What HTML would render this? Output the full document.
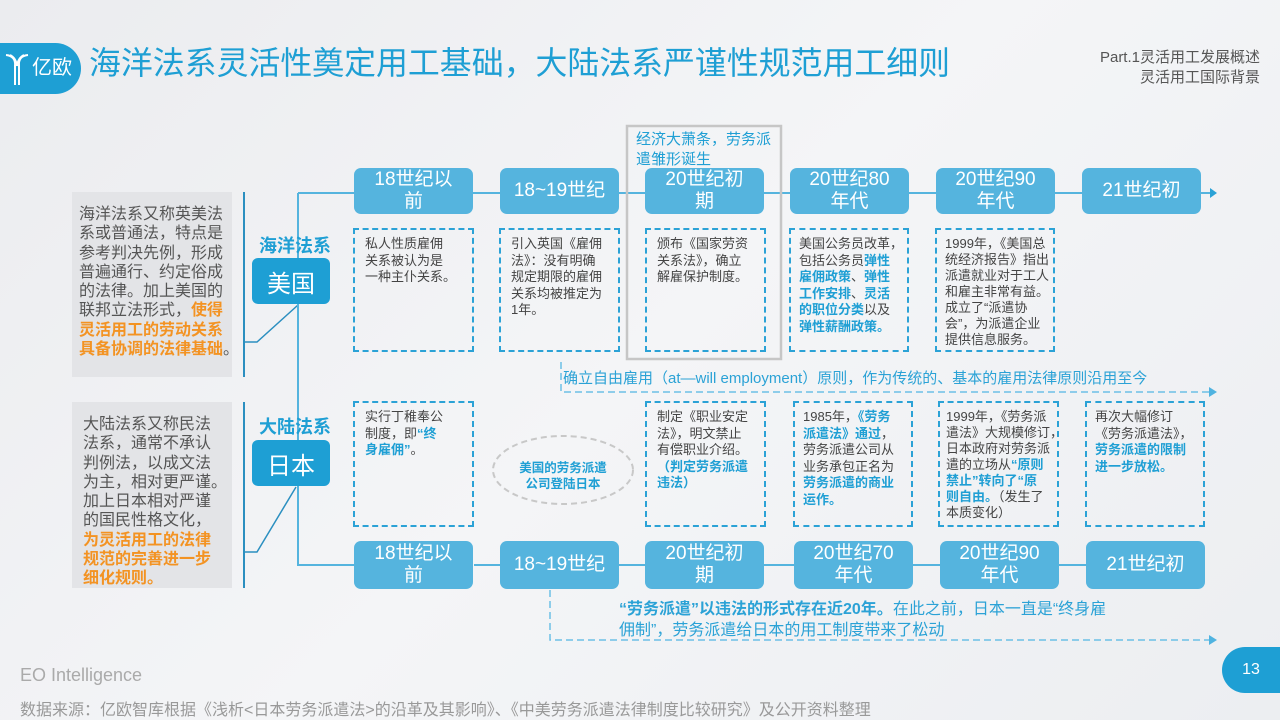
<!DOCTYPE html>
<html><head><meta charset="utf-8">
<style>
*{margin:0;padding:0;box-sizing:border-box}
body{width:1280px;height:720px;overflow:hidden;position:relative;background:linear-gradient(135deg,#ebecef 0%,#f4f5f7 50%,#eceef1 100%);font-family:"Liberation Sans","Noto Sans CJK SC",sans-serif;color:#444}
.a{position:absolute}
.tl{position:absolute;background:#55b4de;color:#fff;border-radius:7px;display:flex;align-items:center;justify-content:center;text-align:center;font-size:19px;line-height:22px;width:119px;height:46px}
.db{position:absolute;border:2.5px dashed #2ba2d6;padding:6px 0 0 10px;font-size:13px;line-height:16.5px;color:#444;white-space:nowrap}
.b{color:#1f9fd4;font-weight:bold}
.o{color:#f39323;font-weight:bold}
.gp{position:absolute;background:#e3e4e7;font-size:16px;line-height:19.3px;color:#555;white-space:nowrap}
.lab{position:absolute;background:#1e9fd4;color:#fff;border-radius:6px;font-size:24px;display:flex;align-items:center;justify-content:center;width:78px;height:46px}
.ln{position:absolute;background:#2b8fc0}
</style></head><body>
<div class="a" style="left:0;top:43px;width:81px;height:51px;background:#1e9fd4;border-radius:0 26px 26px 0;color:#fff">
<svg class="a" style="left:4px;top:9px" width="26" height="34" viewBox="0 0 26 34"><g fill="none" stroke="#fff" stroke-width="2"><path d="M2 3 Q12 4 11 14 V33"/><path d="M24 3 Q14 4 15 14 V33"/><path d="M6 3 Q12 6 13 14"/><path d="M20 3 Q14 6 13 14"/></g></svg>
<span class="a" style="left:32px;top:12px;font-size:20px;line-height:26px">亿欧</span></div>
<div class="a" style="left:89px;top:41px;font-size:31.9px;line-height:44px;color:#1e9fd4;white-space:nowrap">海洋法系灵活性奠定用工基础，大陆法系严谨性规范用工细则</div>
<div class="a" style="right:20px;top:48px;font-size:15px;line-height:20px;color:#555;text-align:right">Part.1灵活用工发展概述<br>灵活用工国际背景</div>

<div class="gp" style="left:72px;top:192px;width:160px;height:185px;padding:13px 0 0 7px">海洋法系又称英美法<br>系或普通法，特点是<br>参考判决先例，形成<br>普遍通行、约定俗成<br>的法律。加上美国的<br>联邦立法形式，<span class="o">使得</span><br><span class="o">灵活用工的劳动关系</span><br><span class="o">具备协调的法律基础</span>。</div>
<div class="gp" style="left:72px;top:402px;width:160px;height:186px;padding:13px 0 0 11px">大陆法系又称民法<br>法系，通常不承认<br>判例法，以成文法<br>为主，相对更严谨。<br>加上日本相对严谨<br>的国民性格文化，<br><span class="o">为灵活用工的法律</span><br><span class="o">规范的完善进一步</span><br><span class="o">细化规则。</span></div>

<div class="ln" style="left:243px;top:192px;width:2px;height:185px"></div>
<div class="ln" style="left:243px;top:402px;width:2px;height:186px"></div>
<svg class="a" style="left:0;top:0" width="1280" height="720">
<g stroke="#2b8fc0" stroke-width="1.5" fill="none">
<path d="M244 342 H257 L298 305"/>
<path d="M244 552 H257 L296 487"/>
</g>
<g stroke="#55b4de" stroke-width="2" fill="none">
<path d="M298 193 H1210"/>
<path d="M298 193 V565 H354"/>
<path d="M474 565 H1205"/>
</g>
<path d="M1210 188 L1217 193 L1210 198Z" fill="#2ba2d6"/>
<g stroke="#6cc0e6" stroke-width="1.5" fill="none" stroke-dasharray="7 4">
<path d="M561 362 V392 H1210"/>
<path d="M550 590 V640 H1210"/>
</g>
<path d="M1209 387 L1217 392 L1209 397Z" fill="#4fb3e0"/>
<path d="M1209 635 L1217 640 L1209 645Z" fill="#4fb3e0"/>
<ellipse cx="563" cy="470" rx="70" ry="34" fill="none" stroke="#c8c8c8" stroke-width="2" stroke-dasharray="6 4"/>
<rect x="627" y="126" width="154" height="233" fill="none" stroke="#c6c6c6" stroke-width="2.5"/>
</svg>

<div class="a" style="left:259px;top:232px;font-size:18px;font-weight:bold;color:#1f9fd4">海洋法系</div>
<div class="lab" style="left:252px;top:258px">美国</div>
<div class="a" style="left:259px;top:413px;font-size:18px;font-weight:bold;color:#1f9fd4">大陆法系</div>
<div class="lab" style="left:252px;top:440px">日本</div>

<div class="a" style="left:636px;top:130px;font-size:15px;line-height:20px;color:#1f9fd4;white-space:nowrap">经济大萧条，劳务派<br>遣雏形诞生</div>
<div class="tl" style="left:354px;top:168px">18世纪以<br>前</div>
<div class="tl" style="left:500px;top:168px">18~19世纪</div>
<div class="tl" style="left:645px;top:168px">20世纪初<br>期</div>
<div class="tl" style="left:790px;top:168px">20世纪80<br>年代</div>
<div class="tl" style="left:936px;top:168px">20世纪90<br>年代</div>
<div class="tl" style="left:1082px;top:168px">21世纪初</div>

<div class="db" style="left:353px;top:228px;width:121px;height:124px">私人性质雇佣<br>关系被认为是<br>一种主仆关系。</div>
<div class="db" style="left:499px;top:228px;width:121px;height:124px">引入英国《雇佣<br>法》：没有明确<br>规定期限的雇佣<br>关系均被推定为<br>1年。</div>
<div class="db" style="left:645px;top:228px;width:121px;height:124px">颁布《国家劳资<br>关系法》，确立<br>解雇保护制度。</div>
<div class="db" style="left:789px;top:228px;width:120px;height:124px;padding-left:8px">美国公务员改革，<br>包括公务员<span class="b">弹性</span><br><span class="b">雇佣政策</span>、<span class="b">弹性</span><br><span class="b">工作安排</span>、<span class="b">灵活</span><br><span class="b">的职位分类</span>以及<br><span class="b">弹性薪酬政策。</span></div>
<div class="db" style="left:935px;top:228px;width:120px;height:124px;padding-left:8px;line-height:16px">1999年，《美国总<br>统经济报告》指出<br>派遣就业对于工人<br>和雇主非常有益。<br>成立了“派遣协<br>会”，为派遣企业<br>提供信息服务。</div>

<div class="a" style="left:563px;top:367px;font-size:15px;color:#2ba2d6;white-space:nowrap">确立自由雇用（at—will employment）原则，作为传统的、基本的雇用法律原则沿用至今</div>

<div class="db" style="left:353px;top:401px;width:121px;height:126px">实行丁稚奉公<br>制度，即<span class="b">“终</span><br><span class="b">身雇佣”</span>。</div>
<div class="a" style="left:505px;top:460px;width:116px;text-align:center;font-size:12.5px;line-height:16px;font-weight:bold;color:#1f9fd4">美国的劳务派遣<br>公司登陆日本</div>
<div class="db" style="left:645px;top:401px;width:121px;height:126px">制定《职业安定<br>法》，明文禁止<br>有偿职业介绍。<br><span class="b">（判定劳务派遣<br>违法）</span></div>
<div class="db" style="left:793px;top:401px;width:120px;height:126px;padding-left:8px">1985年，<span class="b">《劳务<br>派遣法》通过</span>，<br>劳务派遣公司从<br>业务承包正名为<br><span class="b">劳务派遣的商业<br>运作。</span></div>
<div class="db" style="left:938px;top:401px;width:121px;height:126px;padding-left:6px;line-height:16px">1999年，《劳务派<br>遣法》大规模修订，<br>日本政府对劳务派<br>遣的立场从<span class="b">“原则<br>禁止”转向了“原<br>则自由。</span>（发生了<br>本质变化）</div>
<div class="db" style="left:1085px;top:401px;width:120px;height:126px;padding-left:8px">再次大幅修订<br>《劳务派遣法》，<br><span class="b">劳务派遣的限制<br>进一步放松。</span></div>

<div class="tl" style="left:354px;top:541px;height:48px">18世纪以<br>前</div>
<div class="tl" style="left:500px;top:541px;height:48px">18~19世纪</div>
<div class="tl" style="left:645px;top:541px;height:48px">20世纪初<br>期</div>
<div class="tl" style="left:794px;top:541px;height:48px">20世纪70<br>年代</div>
<div class="tl" style="left:940px;top:541px;height:48px">20世纪90<br>年代</div>
<div class="tl" style="left:1086px;top:541px;height:48px">21世纪初</div>

<div class="a" style="left:619px;top:599px;font-size:16px;line-height:21px;color:#2ba2d6;white-space:nowrap"><b>“劳务派遣”以违法的形式存在近20年。</b>在此之前，日本一直是“终身雇<br>佣制”，劳务派遣给日本的用工制度带来了松动</div>

<div class="a" style="left:20px;top:665px;font-size:18px;color:#aaa">EO Intelligence</div>
<div class="a" style="left:20px;top:696px;font-size:16px;color:#999;white-space:nowrap">数据来源：亿欧智库根据《浅析&lt;日本劳务派遣法&gt;的沿革及其影响》、《中美劳务派遣法律制度比较研究》及公开资料整理</div>
<div class="a" style="left:1222px;top:647px;width:58px;height:46px;background:#1e9fd4;border-radius:23px 0 0 23px;color:#fff;font-size:16px;display:flex;align-items:center;justify-content:center">13</div>
</body></html>
